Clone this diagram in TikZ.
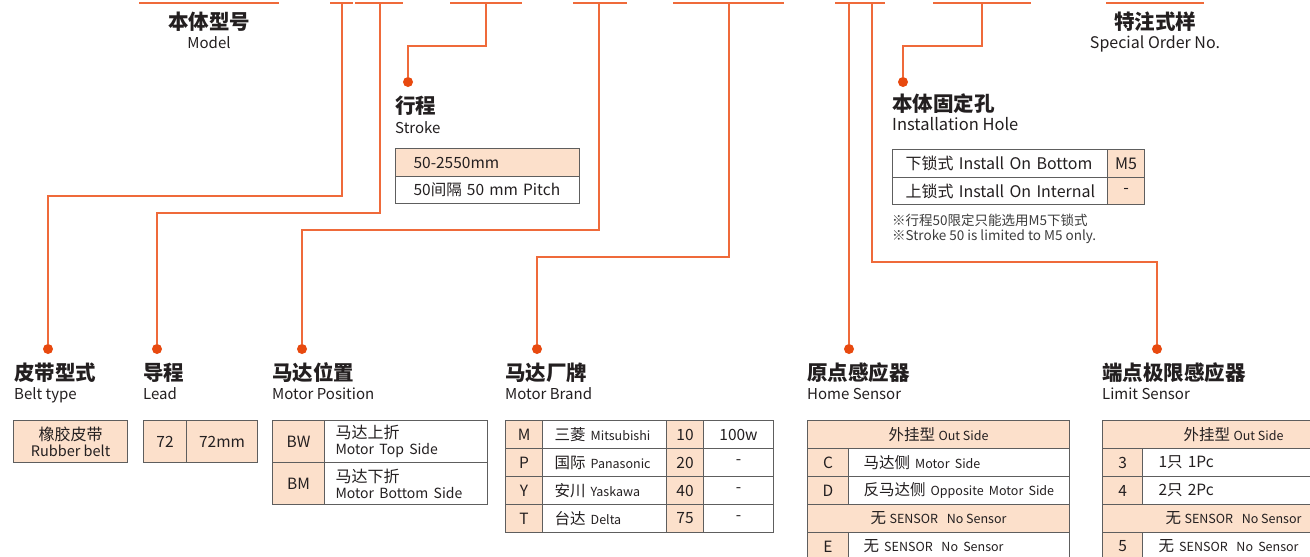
\documentclass[tikz,border=0pt]{standalone}
\usepackage{fontspec}
\setmainfont{Noto Sans CJK SC}
\usetikzlibrary{positioning}
\definecolor{wire}{HTML}{EF6A3A}
\definecolor{dotred}{HTML}{E8490F}
\definecolor{peach}{HTML}{FCE0CB}
\definecolor{rule}{HTML}{5E5E5E}
\definecolor{ink}{HTML}{231F20}
\definecolor{ink2}{HTML}{3C3C3C}
\newcommand\tbl{\fontsize{15.5}{17}\selectfont}
\newcommand\sm{\fontsize{12.5}{14}\selectfont}
\newcommand\gap{\hspace{0.7em}}
\tikzset{
  link/.style={draw=wire, line width=1.4pt},
  rail/.style={draw=wire, line width=1.6pt},
  pin/.style={circle, fill=dotred, inner sep=0pt, minimum size=10pt},
  head/.style={anchor=west, inner sep=0pt, text=ink, font=\fontsize{20.5}{22}\selectfont\bfseries},
  sub/.style={anchor=base west, inner sep=0pt, text=ink, font=\fontsize{15}{17}\selectfont},
  note/.style={anchor=west, inner sep=0pt, text=ink2, font=\fontsize{13.5}{15}\selectfont},
  cell/.style={draw=rule, line width=1.1pt, anchor=north west, inner sep=0pt, minimum height=28pt, text=ink, font=\tbl, align=center},
  tint/.style={cell, fill=peach},
  blank/.style={cell, fill=white},
  twoline/.style={minimum height=42pt, font=\fontsize{16}{16}\selectfont},
  big/.style={font=\fontsize{16}{18}\selectfont},
}
\begin{document}
\begin{tikzpicture}[x=1pt, y=-1pt]
\useasboundingbox (0,0) rectangle (1310,557);
\fill[white] (0,0) rectangle (1310,557);
\clip (0,0) rectangle (1310,557);
% code line
\foreach \a/\b in {139/279, 330/353, 355/403, 450/522, 573/627, 673/784, 835/885, 933/1031, 1106/1204}
  \draw[rail] (\a,3) -- (\b,3);
\coordinate (tBelt) at (342,3);
\coordinate (tLead) at (380,3);
\coordinate (tStroke) at (486,3);
\coordinate (tPos) at (599,3);
\coordinate (tBrand) at (729,3);
\coordinate (tHome) at (849,3);
\coordinate (tLimit) at (872,3);
\coordinate (tHole) at (982,3);
\node[head, anchor=center] (modelCn) at (209,22) {本体型号};
\node[sub, anchor=base] (modelEn) at (209,48) {Model};
\node[head, anchor=center] (specCn) at (1155,22) {特注式样};
\node[sub, anchor=base, font=\fontsize{16}{18}\selectfont] (specEn) at (1155,48) {Special Order No.};
% pins
\node[pin] (pStroke) at (408,82) {};
\node[pin] (pHole) at (903,82) {};
\node[pin] (pBelt) at (48,349) {};
\node[pin] (pLead) at (157,349) {};
\node[pin] (pPos) at (302,349) {};
\node[pin] (pBrand) at (537,349) {};
\node[pin] (pHome) at (849,349) {};
\node[pin] (pLimit) at (1157,349) {};
% connectors
\draw[link] (tBelt) -- ++(0,193) -| (pBelt);
\draw[link] (tLead) -- ++(0,210) -| (pLead);
\draw[link] (tStroke) -- ++(0,43) -| (pStroke);
\draw[link] (tPos) -- ++(0,227) -| (pPos);
\draw[link] (tBrand) -- ++(0,254) -| (pBrand);
\draw[link] (tHome) -- (pHome);
\draw[link] (tLimit) -- ++(0,259) -| (pLimit);
\draw[link] (tHole) -- ++(0,43) -| (pHole);
% stroke
\node[head] (strokeCn) at (395,106) {行程};
\node[sub] (strokeEn) at (395,133) {Stroke};
\node[tint, minimum width=184pt, text width=148pt, inner xsep=18pt, align=left] (strokeA) at (395,148) {50-2550mm};
\node[blank, minimum width=184pt, minimum height=27pt, text width=148pt, inner xsep=18pt, align=left] (strokeB) at (395,176) {50间隔 50 mm Pitch};
% installation hole
\node[head] (holeCn) at (892,104) {本体固定孔};
\node[sub, font=\fontsize{16.5}{18}\selectfont] (holeEn) at (892,130) {Installation Hole};
\node[blank, big, minimum width=215pt, text width=189pt, inner xsep=13pt, align=left] (holeA) at (892,149) {\mbox{下锁式 Install On Bottom}};
\node[tint, big, minimum width=37pt] (holeAv) at (1107,149) {M5};
\node[blank, big, minimum width=215pt, minimum height=27pt, text width=189pt, inner xsep=13pt, align=left] (holeB) at (892,177) {\mbox{上锁式 Install On Internal}};
\node[tint, big, minimum width=37pt, minimum height=27pt] (holeBv) at (1107,177) {-};
\node[note] (holeNote1) at (892,220) {※行程50限定只能选用M5下锁式};
\node[note] (holeNote2) at (892,237) {※Stroke 50 is limited to M5 only.};
% belt type
\node[head] (beltCn) at (14,373) {皮带型式};
\node[sub] (beltEn) at (14,399) {Belt type};
\node[tint, twoline, minimum width=114pt] (beltA) at (13,420) {橡胶皮带\\{\fontsize{14.5}{15}\selectfont Rubber belt}};
% lead
\node[head] (leadCn) at (143,373) {导程};
\node[sub] (leadEn) at (143,399) {Lead};
\node[tint, minimum width=43pt, minimum height=42pt] (leadA) at (143,420) {72};
\node[tint, minimum width=71pt, minimum height=42pt] (leadB) at (186,420) {72mm};
% motor position
\node[head] (posCn) at (272,373) {马达位置};
\node[sub] (posEn) at (272,399) {Motor Position};
\node[tint, minimum width=52pt, minimum height=42pt] (posA) at (272,420) {BW};
\node[blank, twoline, minimum width=163pt, text width=141pt, inner xsep=11pt, align=left] (posAt) at (324,420) {马达上折\\{\fontsize{14}{15}\selectfont Motor Top Side}};
\node[tint, minimum width=52pt, minimum height=42pt] (posB) at (272,462) {BM};
\node[blank, twoline, minimum width=163pt, text width=141pt, inner xsep=11pt, align=left] (posBt) at (324,462) {马达下折\\{\fontsize{14}{15}\selectfont Motor Bottom Side}};
% motor brand
\node[head] (brandCn) at (505,373) {马达厂牌};
\node[sub] (brandEn) at (505,399) {Motor Brand};
\foreach \c/\cn/\en/\n/\w [count=\i from 0] in {M/三菱/Mitsubishi/10/100w, P/国际/Panasonic/20/-, Y/安川/Yaskawa/40/-, T/台达/Delta/75/-}{
  \node[tint, minimum width=37pt] (brandK\i) at (505,{420+28*\i}) {\c};
  \node[blank, minimum width=124pt, text width=100pt, inner xsep=12pt, align=left] (brandN\i) at (542,{420+28*\i}) {\cn{} {\sm\en}};
  \node[tint, minimum width=37pt] (brandP\i) at (666,{420+28*\i}) {\n};
  \node[blank, minimum width=70pt] (brandW\i) at (703,{420+28*\i}) {\w};
}
% home sensor
\node[head] (homeCn) at (807,373) {原点感应器};
\node[sub] (homeEn) at (807,399) {Home Sensor};
\node[tint, minimum width=262pt] (homeOut) at (807,420) {外挂型 {\sm Out Side}};
\node[tint, minimum width=41pt] (homeC) at (807,448) {C};
\node[blank, minimum width=221pt, text width=191pt, inner xsep=15pt, align=left] (homeCt) at (848,448) {马达侧 {\sm Motor Side}};
\node[tint, minimum width=41pt] (homeD) at (807,476) {D};
\node[blank, minimum width=221pt, text width=191pt, inner xsep=15pt, align=left] (homeDt) at (848,476) {反马达侧 {\sm Opposite Motor Side}};
\node[tint, minimum width=262pt] (homeNo) at (807,504) {无 {\sm SENSOR\gap No Sensor}};
\node[tint, minimum width=41pt] (homeE) at (807,532) {E};
\node[blank, minimum width=221pt, text width=191pt, inner xsep=15pt, align=left] (homeEt) at (848,532) {无 {\sm SENSOR\gap No Sensor}};
% limit sensor
\node[head] (limitCn) at (1102,373) {端点极限感应器};
\node[sub] (limitEn) at (1102,399) {Limit Sensor};
\node[tint, minimum width=262pt] (limitOut) at (1102,420) {外挂型 {\sm Out Side}};
\node[tint, minimum width=40pt] (limit3) at (1102,448) {3};
\node[blank, minimum width=222pt, text width=190pt, inner xsep=16pt, align=left] (limit3t) at (1142,448) {1只 1Pc};
\node[tint, minimum width=40pt] (limit4) at (1102,476) {4};
\node[blank, minimum width=222pt, text width=190pt, inner xsep=16pt, align=left] (limit4t) at (1142,476) {2只 2Pc};
\node[tint, minimum width=262pt] (limitNo) at (1102,504) {无 {\sm SENSOR\gap No Sensor}};
\node[tint, minimum width=40pt] (limit5) at (1102,532) {5};
\node[blank, minimum width=222pt, text width=190pt, inner xsep=16pt, align=left] (limit5t) at (1142,532) {无 {\sm SENSOR\gap No Sensor}};
\end{tikzpicture}
\end{document}
